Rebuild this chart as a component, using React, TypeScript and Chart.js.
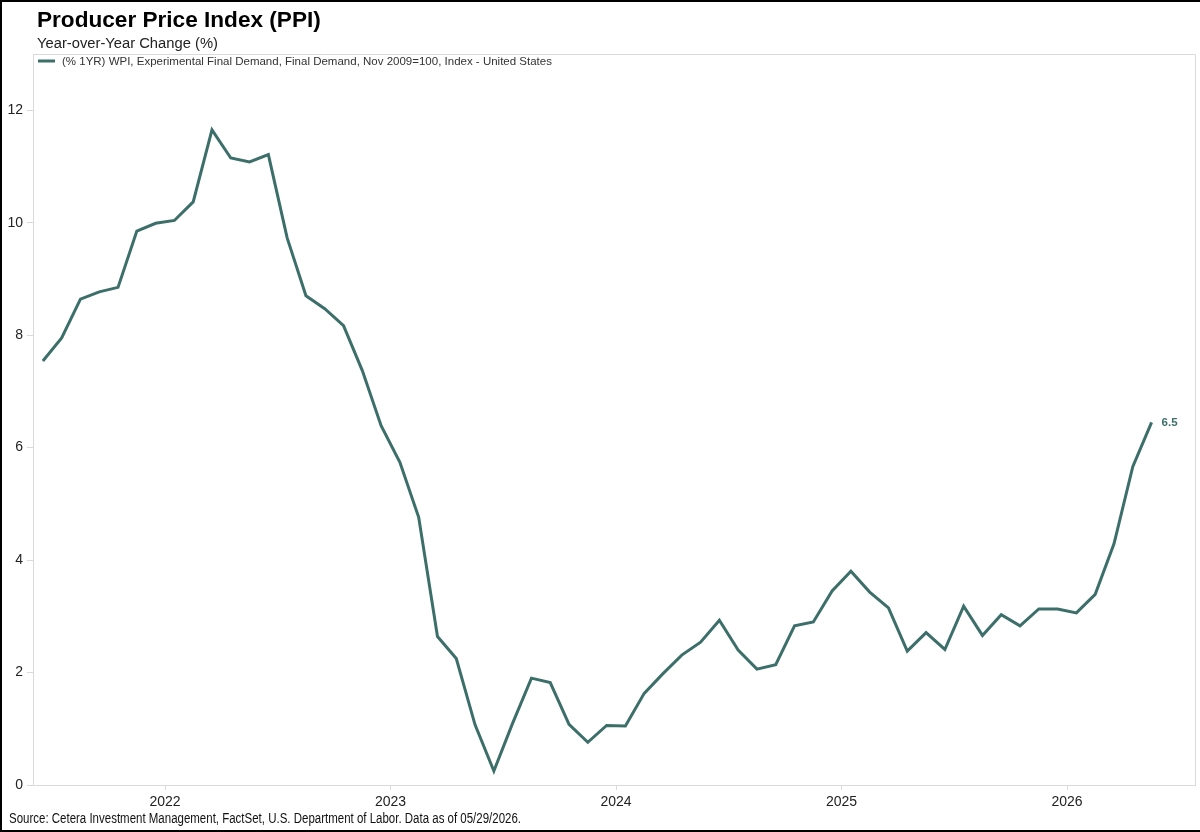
import React, { useEffect, useRef } from "react";
import { Chart, registerables } from "chart.js";

Chart.register(...registerables);

const TITLE = "Producer Price Index (PPI)";
const SUBTITLE = "Year-over-Year Change (%)";
const SERIES_NAME = "(% 1YR) WPI, Experimental Final Demand, Final Demand, Nov 2009=100, Index - United States";
const SOURCE = "Source: Cetera Investment Management, FactSet, U.S. Department of Labor. Data as of 05/29/2026.";

const months: string[] = [
  "2021-06", "2021-07", "2021-08", "2021-09", "2021-10", "2021-11", "2021-12",
  "2022-01", "2022-02", "2022-03", "2022-04", "2022-05", "2022-06", "2022-07", "2022-08", "2022-09", "2022-10", "2022-11", "2022-12",
  "2023-01", "2023-02", "2023-03", "2023-04", "2023-05", "2023-06", "2023-07", "2023-08", "2023-09", "2023-10", "2023-11", "2023-12",
  "2024-01", "2024-02", "2024-03", "2024-04", "2024-05", "2024-06", "2024-07", "2024-08", "2024-09", "2024-10", "2024-11", "2024-12",
  "2025-01", "2025-02", "2025-03", "2025-04", "2025-05", "2025-06", "2025-07", "2025-08", "2025-09", "2025-10", "2025-11", "2025-12",
  "2026-01", "2026-02", "2026-03", "2026-04", "2026-05",
];

const ppiYoY: number[] = [
  7.54, 7.95, 8.64, 8.77, 8.85, 9.85, 9.99,
  10.04, 10.37, 11.65, 11.15, 11.08, 11.21, 9.73, 8.70, 8.47, 8.17, 7.37, 6.39,
  5.74, 4.76, 2.64, 2.25, 1.07, 0.25, 1.10, 1.90, 1.82, 1.08, 0.76, 1.06,
  1.05, 1.63, 1.98, 2.31, 2.54, 2.93, 2.40, 2.06, 2.14, 2.83, 2.90, 3.45,
  3.80, 3.43, 3.15, 2.38, 2.71, 2.41, 3.18, 2.66, 3.03, 2.83, 3.13, 3.13,
  3.06, 3.39, 4.29, 5.66, 6.45,
];

const yearTicks: number[] = [2022, 2023, 2024, 2025, 2026];
const yTicks: number[] = [0, 2, 4, 6, 8, 10, 12];

const LINE_COLOR = "#3d6f6a";
const FRAME_COLOR = "#dadada";
const FONT = '"Liberation Sans", Arial, sans-serif';

// mid-month position in decimal years
const toYear = (m: string) => {
  const [y, mo] = m.split("-").map(Number);
  return y + (mo - 0.5) / 12;
};

const decorPlugin = {
  id: "decor",
  beforeDatasetsDraw(chart: any) {
    const { ctx, chartArea } = chart;
    ctx.save();
    ctx.strokeStyle = FRAME_COLOR;
    ctx.lineWidth = 1;
    ctx.beginPath();
    ctx.moveTo(chartArea.left, chartArea.top + 0.5);
    ctx.lineTo(chartArea.right + 0.5, chartArea.top + 0.5);
    ctx.lineTo(chartArea.right + 0.5, chartArea.bottom);
    ctx.stroke();
    ctx.restore();
  },
  afterDraw(chart: any) {
    const { ctx } = chart;
    const W = chart.width;
    const H = chart.height;
    ctx.save();
    // outer black border
    ctx.fillStyle = "#000";
    ctx.fillRect(0, 0, W, 2);
    ctx.fillRect(0, 0, 2, H);
    ctx.fillRect(0, H - 2, W, 2);

    ctx.textAlign = "left";
    ctx.textBaseline = "alphabetic";
    ctx.fillStyle = "#000";
    ctx.font = `bold 22.6px ${FONT}`;
    ctx.fillText(TITLE, 37, 27);

    ctx.fillStyle = "#222";
    ctx.font = `14.75px ${FONT}`;
    ctx.fillText(SUBTITLE, 37, 48);

    // legend
    ctx.strokeStyle = LINE_COLOR;
    ctx.lineWidth = 3;
    ctx.beginPath();
    ctx.moveTo(38, 61);
    ctx.lineTo(55, 61);
    ctx.stroke();
    ctx.fillStyle = "#333";
    ctx.font = `11.5px ${FONT}`;
    ctx.textBaseline = "middle";
    ctx.fillText(SERIES_NAME, 62, 61.5);

    // source (narrow rendering as in the reference)
    ctx.save();
    ctx.fillStyle = "#111";
    ctx.font = `14px ${FONT}`;
    const natural = ctx.measureText(SOURCE).width;
    const sx = 512 / natural;
    ctx.translate(9, 819);
    ctx.scale(sx, 1);
    ctx.fillText(SOURCE, 0, 0);
    ctx.restore();

    // end label
    const meta = chart.getDatasetMeta(0);
    const last = meta.data[meta.data.length - 1];
    const lastVal = ppiYoY[ppiYoY.length - 1];
    ctx.fillStyle = LINE_COLOR;
    ctx.font = `bold 11.5px ${FONT}`;
    ctx.textBaseline = "middle";
    ctx.fillText(lastVal.toFixed(1), last.x + 10, last.y + 1);
    ctx.restore();
  },
};

export default function App() {
  const canvasRef = useRef<HTMLCanvasElement | null>(null);

  useEffect(() => {
    document.body.style.margin = "0";
    const canvas = canvasRef.current;
    if (!canvas) return;
    const chart = new Chart(canvas, {
      type: "line",
      data: {
        datasets: [
          {
            label: SERIES_NAME,
            data: months.map((m, i) => ({ x: toYear(m), y: ppiYoY[i] })),
            borderColor: LINE_COLOR,
            backgroundColor: LINE_COLOR,
            borderWidth: 3,
            pointRadius: 0,
            tension: 0,
            fill: false,
          },
        ],
      },
      options: {
        animation: false,
        responsive: false,
        maintainAspectRatio: false,
        layout: { padding: { top: 54, right: 5, left: 0, bottom: 0 } },
        plugins: {
          legend: { display: false },
          title: { display: false },
          tooltip: { enabled: false },
        },
        scales: {
          x: {
            type: "linear",
            min: 2021.4146,
            max: 2026.5676,
            afterBuildTicks: (scale: any) => {
              scale.ticks = yearTicks.map((v) => ({ value: v }));
            },
            afterFit: (scale: any) => {
              scale.height = 47;
            },
            grid: {
              drawOnChartArea: false,
              drawTicks: true,
              tickLength: 5,
              color: FRAME_COLOR,
            },
            border: { display: true, color: FRAME_COLOR },
            ticks: {
              padding: 4,
              color: "#222",
              font: { family: FONT, size: 14 },
              callback: (v: any) => String(v),
              maxRotation: 0,
              autoSkip: false,
            },
          },
          y: {
            type: "linear",
            min: 0,
            max: 13,
            afterBuildTicks: (scale: any) => {
              scale.ticks = yTicks.map((v) => ({ value: v }));
            },
            afterFit: (scale: any) => {
              scale.width = 33;
            },
            grid: {
              drawOnChartArea: false,
              drawTicks: true,
              tickLength: 6,
              color: FRAME_COLOR,
            },
            border: { display: true, color: FRAME_COLOR },
            ticks: {
              padding: 4,
              color: "#222",
              font: { family: FONT, size: 14 },
              callback: (v: any) => String(v),
            },
          },
        },
      },
      plugins: [decorPlugin],
    });
    return () => chart.destroy();
  }, []);

  return (
    <div style={{ position: "fixed", left: 0, top: 0, width: 1200, height: 832, background: "#fff" }}>
      <canvas ref={canvasRef} width={1200} height={832} style={{ width: 1200, height: 832, display: "block" }} />
    </div>
  );
}
